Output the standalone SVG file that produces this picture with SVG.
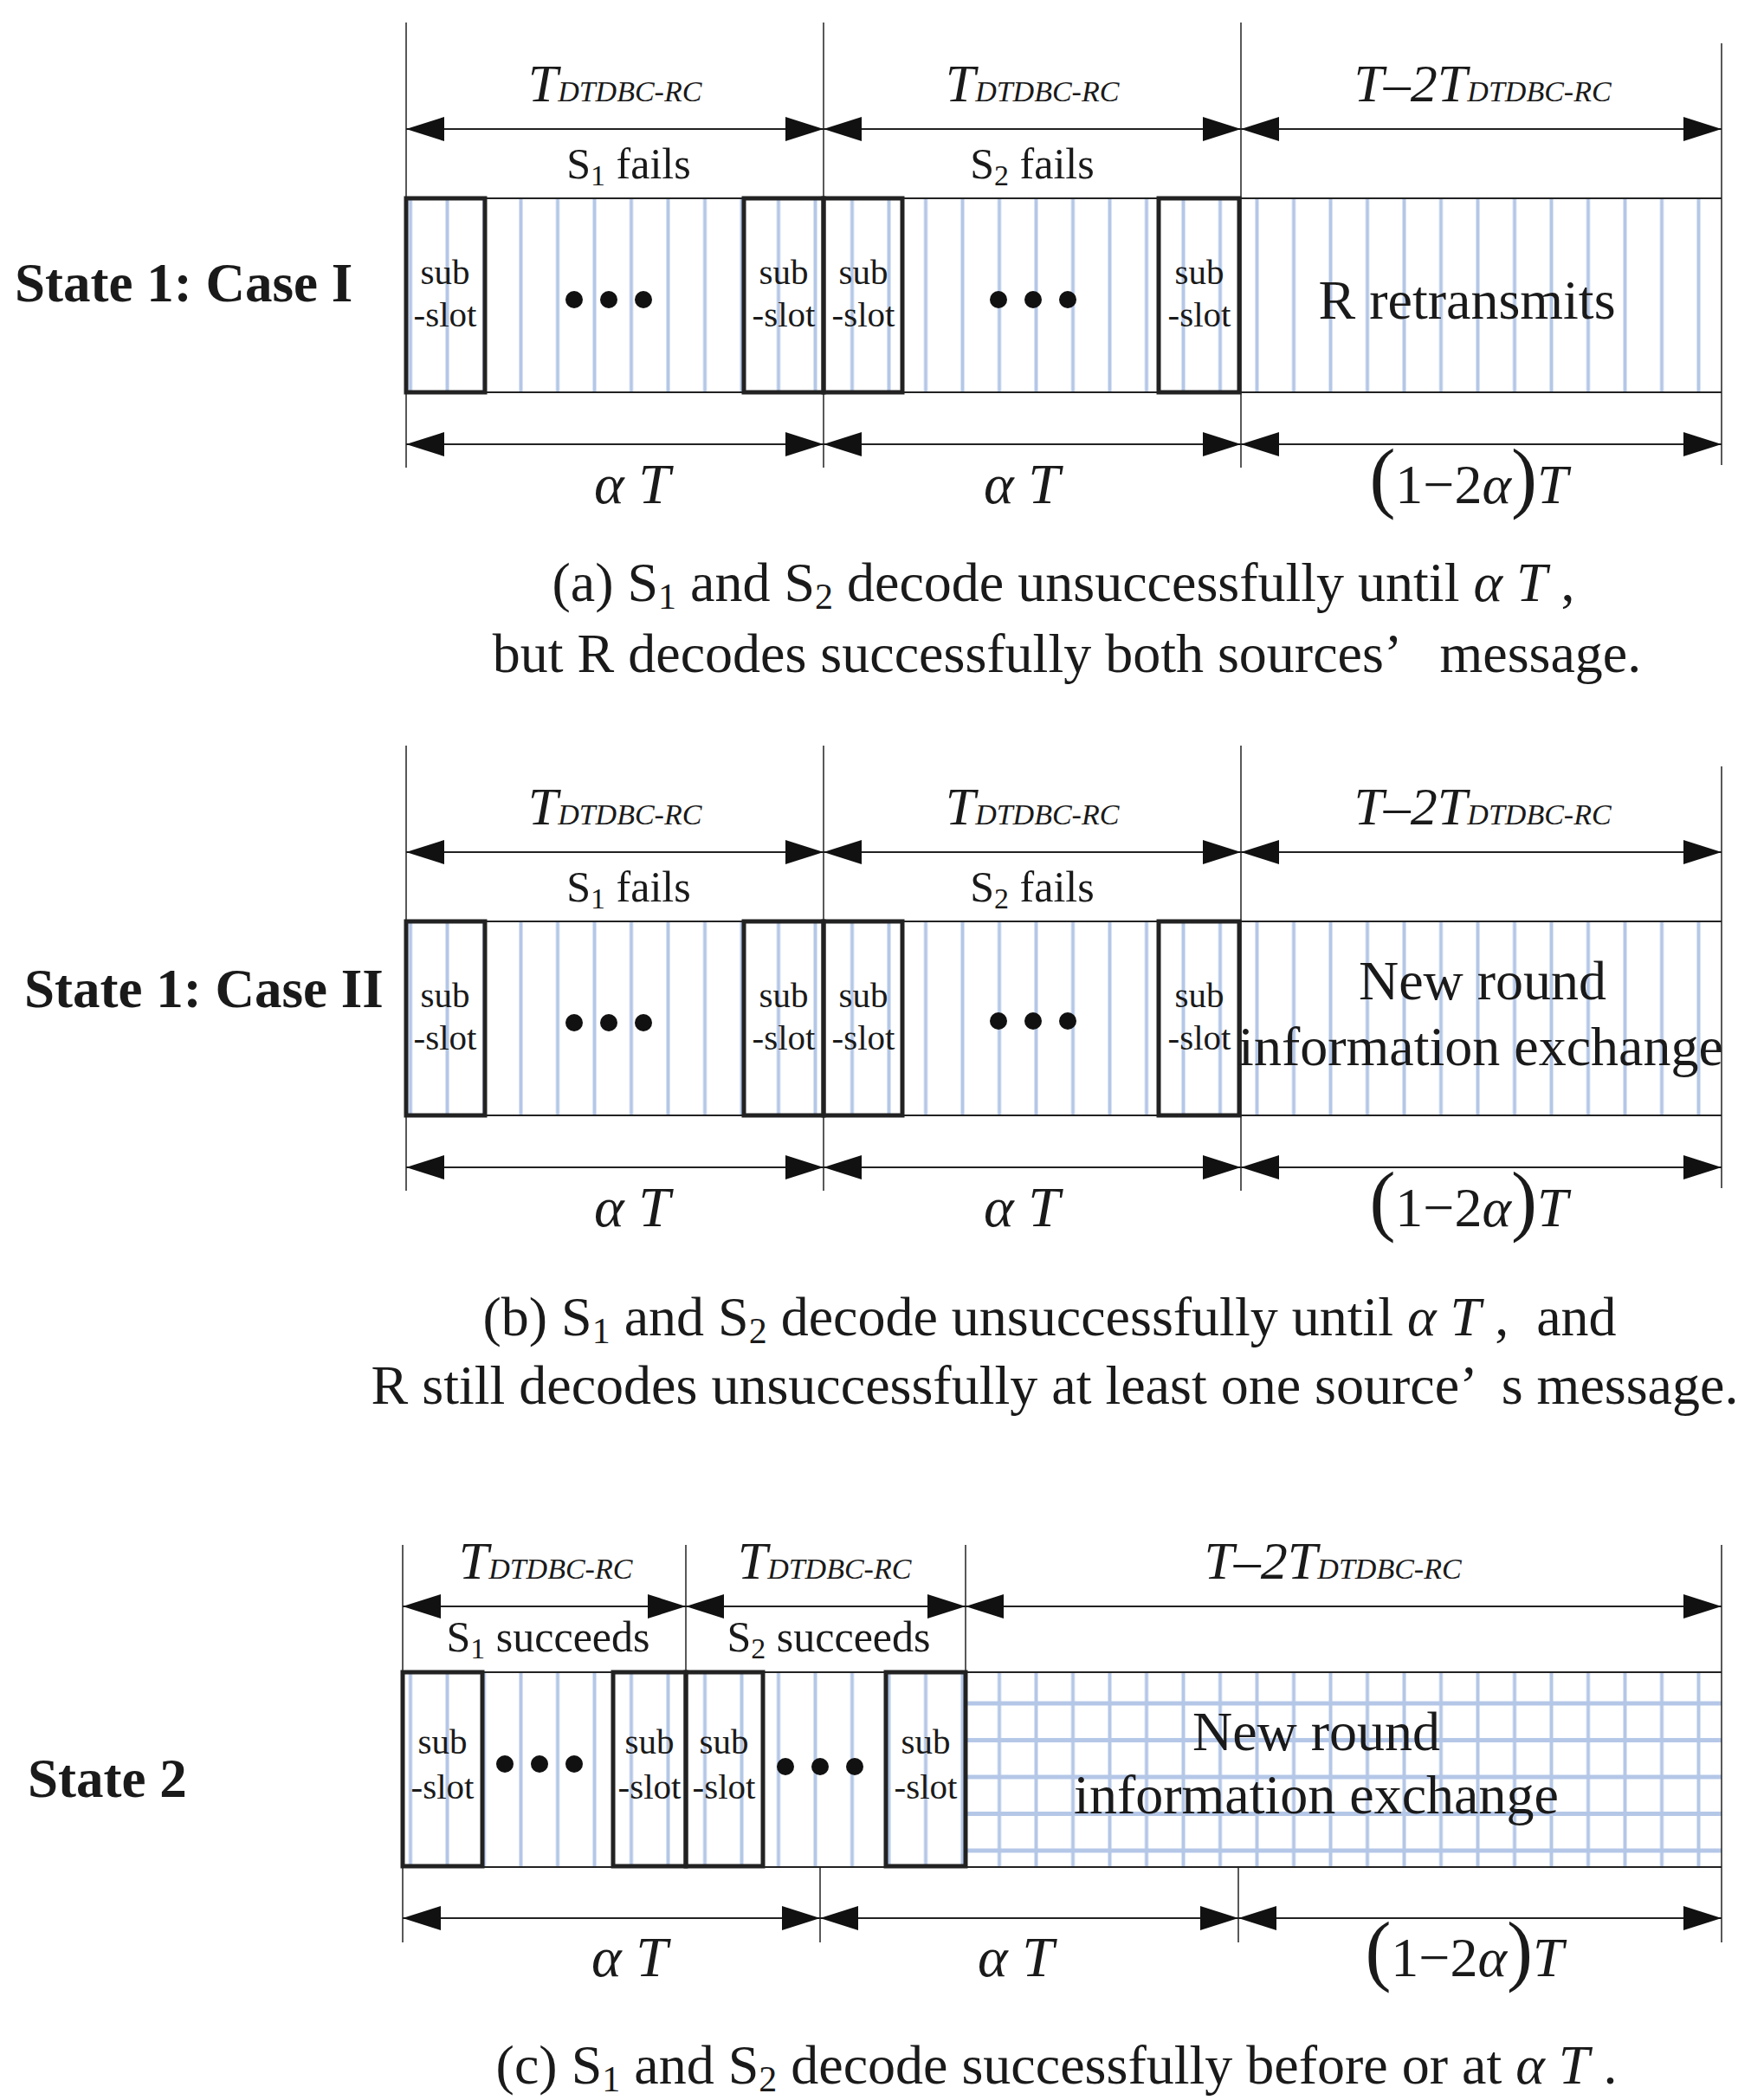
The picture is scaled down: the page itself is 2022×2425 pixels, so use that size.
<svg xmlns="http://www.w3.org/2000/svg" width="2022" height="2425" viewBox="0 0 2022 2425">
<style>
text{font-family:"Liberation Serif","Times New Roman",serif;fill:#1a1a1a}
.st{font-weight:bold;font-size:63px}
.lab{font-size:50px}
.ss{font-size:41px;text-anchor:middle}
.it{font-style:italic}
.cap{font-size:64px;text-anchor:middle}
.mid{text-anchor:middle}
.ext{stroke:#222;stroke-width:1.5;fill:none}
.dim{stroke:#222;stroke-width:1.8;fill:none;marker-start:url(#ar);marker-end:url(#ar)}
.box{stroke:#222;stroke-width:5;fill:none}
.edge{stroke:#222;stroke-width:1.8}
.dot{fill:#111}
</style>
<defs>
<marker id="ar" markerUnits="userSpaceOnUse" markerWidth="46" markerHeight="30" refX="44" refY="14" orient="auto-start-reverse"><path d="M0,0 L44,14 L0,28 Z" fill="#111"/></marker>
<pattern id="pv" x="452.75" y="0" width="42.5" height="10" patternUnits="userSpaceOnUse"><rect x="19.25" y="0" width="4" height="10" fill="#b4c7e7"/></pattern>
<pattern id="pg" x="452.75" y="1945.75" width="42.5" height="42.5" patternUnits="userSpaceOnUse"><rect x="19.25" y="0" width="4" height="42.5" fill="#b4c7e7"/><rect x="0" y="18.75" width="42.5" height="5" fill="#b4c7e7"/></pattern>
</defs>

<g id="panel-a">
<text class="st" x="17" y="348">State 1: Case I</text>
<rect x="469" y="229" width="1519" height="224" fill="url(#pv)"/>
<line class="edge" x1="469" y1="229" x2="1988" y2="229"/><line class="edge" x1="469" y1="453" x2="1988" y2="453"/>
<rect class="box" x="469" y="229" width="91" height="224"/>
<rect class="box" x="859" y="229" width="92" height="224"/>
<rect class="box" x="951" y="229" width="91" height="224"/>
<rect class="box" x="1338" y="229" width="93" height="224"/>
<text class="ss" x="514" y="328">sub</text><text class="ss" x="514" y="377">-slot</text>
<text class="ss" x="905" y="328">sub</text><text class="ss" x="905" y="377">-slot</text>
<text class="ss" x="997" y="328">sub</text><text class="ss" x="997" y="377">-slot</text>
<text class="ss" x="1385" y="328">sub</text><text class="ss" x="1385" y="377">-slot</text>
<circle class="dot" cx="663" cy="346" r="10"/><circle class="dot" cx="703" cy="346" r="10"/><circle class="dot" cx="743" cy="346" r="10"/>
<circle class="dot" cx="1153" cy="346" r="10"/><circle class="dot" cx="1193" cy="346" r="10"/><circle class="dot" cx="1233" cy="346" r="10"/>
<text class="mid" x="1694" y="368" font-size="64">R retransmits</text>
<text class="mid it" x="710" y="117"><tspan font-size="62">T</tspan><tspan font-size="34">DTDBC-RC</tspan></text>
<text class="mid it" x="1192" y="117"><tspan font-size="62">T</tspan><tspan font-size="34">DTDBC-RC</tspan></text>
<text class="mid it" x="1712" y="117"><tspan font-size="62">T–2T</tspan><tspan font-size="34">DTDBC-RC</tspan></text>
<text class="lab mid" x="726" y="206">S<tspan font-size="34" dy="8">1</tspan><tspan dy="-8"> fails</tspan></text>
<text class="lab mid" x="1192" y="206">S<tspan font-size="34" dy="8">2</tspan><tspan dy="-8"> fails</tspan></text>
<text class="mid it" x="730" y="581" font-size="66">α T</text>
<text class="mid it" x="1180" y="581" font-size="66">α T</text>
<text class="mid" x="1696" y="581" font-size="64"><tspan font-size="90">(</tspan>1−2<tspan class="it">α</tspan><tspan font-size="90">)</tspan><tspan class="it">T</tspan></text>
<text class="cap" x="1228" y="694">(a) S<tspan font-size="42" dy="9">1</tspan><tspan dy="-9"> and S</tspan><tspan font-size="42" dy="9">2</tspan><tspan dy="-9"> decode unsuccessfully until </tspan><tspan class="it">α T</tspan> ,</text>
<text class="cap" x="1232" y="776" xml:space="preserve">but R decodes successfully both sources’   message.</text>
</g>

<g id="panel-b">
<text class="st" x="28" y="1163">State 1: Case II</text>
<rect x="469" y="1064" width="1519" height="224" fill="url(#pv)"/>
<line class="edge" x1="469" y1="1064" x2="1988" y2="1064"/><line class="edge" x1="469" y1="1288" x2="1988" y2="1288"/>
<rect class="box" x="469" y="1064" width="91" height="224"/>
<rect class="box" x="859" y="1064" width="92" height="224"/>
<rect class="box" x="951" y="1064" width="91" height="224"/>
<rect class="box" x="1338" y="1064" width="93" height="224"/>
<text class="ss" x="514" y="1163">sub</text><text class="ss" x="514" y="1212">-slot</text>
<text class="ss" x="905" y="1163">sub</text><text class="ss" x="905" y="1212">-slot</text>
<text class="ss" x="997" y="1163">sub</text><text class="ss" x="997" y="1212">-slot</text>
<text class="ss" x="1385" y="1163">sub</text><text class="ss" x="1385" y="1212">-slot</text>
<circle class="dot" cx="663" cy="1181" r="10"/><circle class="dot" cx="703" cy="1181" r="10"/><circle class="dot" cx="743" cy="1181" r="10"/>
<circle class="dot" cx="1153" cy="1179" r="10"/><circle class="dot" cx="1193" cy="1179" r="10"/><circle class="dot" cx="1233" cy="1179" r="10"/>
<text class="mid" x="1712" y="1154" font-size="64">New round</text>
<text class="mid" x="1710" y="1230" font-size="64">information exchange</text>
<text class="mid it" x="710" y="952"><tspan font-size="62">T</tspan><tspan font-size="34">DTDBC-RC</tspan></text>
<text class="mid it" x="1192" y="952"><tspan font-size="62">T</tspan><tspan font-size="34">DTDBC-RC</tspan></text>
<text class="mid it" x="1712" y="952"><tspan font-size="62">T–2T</tspan><tspan font-size="34">DTDBC-RC</tspan></text>
<text class="lab mid" x="726" y="1041">S<tspan font-size="34" dy="8">1</tspan><tspan dy="-8"> fails</tspan></text>
<text class="lab mid" x="1192" y="1041">S<tspan font-size="34" dy="8">2</tspan><tspan dy="-8"> fails</tspan></text>
<text class="mid it" x="730" y="1416" font-size="66">α T</text>
<text class="mid it" x="1180" y="1416" font-size="66">α T</text>
<text class="mid" x="1696" y="1416" font-size="64"><tspan font-size="90">(</tspan>1−2<tspan class="it">α</tspan><tspan font-size="90">)</tspan><tspan class="it">T</tspan></text>
<text class="cap" x="1212" y="1542" xml:space="preserve">(b) S<tspan font-size="42" dy="9">1</tspan><tspan dy="-9"> and S</tspan><tspan font-size="42" dy="9">2</tspan><tspan dy="-9"> decode unsuccessfully until </tspan><tspan class="it">α T</tspan> ,  and</text>
<text class="cap" x="1218" y="1621" xml:space="preserve">R still decodes unsuccessfully at least one source’  s message.</text>
</g>

<g id="panel-c">
<text class="st" x="32" y="2075">State 2</text>
<rect x="465" y="1931" width="650" height="224" fill="url(#pv)"/>
<rect x="1115" y="1931" width="873" height="224" fill="url(#pg)"/>
<line class="edge" x1="465" y1="1931" x2="1988" y2="1931"/><line class="edge" x1="465" y1="2156" x2="1988" y2="2156"/>
<rect class="box" x="465" y="1931" width="92" height="224"/>
<rect class="box" x="708" y="1931" width="84" height="224"/>
<rect class="box" x="792" y="1931" width="89" height="224"/>
<rect class="box" x="1023" y="1931" width="92" height="224"/>
<text class="ss" x="511" y="2025">sub</text><text class="ss" x="511" y="2077">-slot</text>
<text class="ss" x="750" y="2025">sub</text><text class="ss" x="750" y="2077">-slot</text>
<text class="ss" x="836" y="2025">sub</text><text class="ss" x="836" y="2077">-slot</text>
<text class="ss" x="1069" y="2025">sub</text><text class="ss" x="1069" y="2077">-slot</text>
<circle class="dot" cx="583" cy="2037" r="10"/><circle class="dot" cx="623" cy="2037" r="10"/><circle class="dot" cx="663" cy="2037" r="10"/>
<circle class="dot" cx="907" cy="2040" r="10"/><circle class="dot" cx="947" cy="2040" r="10"/><circle class="dot" cx="987" cy="2040" r="10"/>
<text class="mid" x="1520" y="2021" font-size="64">New round</text>
<text class="mid" x="1520" y="2094" font-size="64">information exchange</text>
<text class="mid it" x="630" y="1823"><tspan font-size="62">T</tspan><tspan font-size="34">DTDBC-RC</tspan></text>
<text class="mid it" x="952" y="1823"><tspan font-size="62">T</tspan><tspan font-size="34">DTDBC-RC</tspan></text>
<text class="mid it" x="1539" y="1823"><tspan font-size="62">T–2T</tspan><tspan font-size="34">DTDBC-RC</tspan></text>
<text class="lab mid" x="633" y="1907">S<tspan font-size="34" dy="8">1</tspan><tspan dy="-8"> succeeds</tspan></text>
<text class="lab mid" x="957" y="1907">S<tspan font-size="34" dy="8">2</tspan><tspan dy="-8"> succeeds</tspan></text>
<text class="mid it" x="727" y="2282" font-size="66">α T</text>
<text class="mid it" x="1173" y="2282" font-size="66">α T</text>
<text class="mid" x="1691" y="2282" font-size="64"><tspan font-size="90">(</tspan>1−2<tspan class="it">α</tspan><tspan font-size="90">)</tspan><tspan class="it">T</tspan></text>
<text class="cap" x="1220" y="2406">(c) S<tspan font-size="42" dy="9">1</tspan><tspan dy="-9"> and S</tspan><tspan font-size="42" dy="9">2</tspan><tspan dy="-9"> decode successfully before or at </tspan><tspan class="it">α T</tspan> .</text>
</g>

<g id="connectors">
<line class="ext" x1="469" y1="26" x2="469" y2="540"/><line class="ext" x1="951" y1="26" x2="951" y2="540"/><line class="ext" x1="1433" y1="26" x2="1433" y2="540"/><line class="ext" x1="1988" y1="50" x2="1988" y2="537"/>
<line class="dim" x1="469" y1="149" x2="951" y2="149"/><line class="dim" x1="951" y1="149" x2="1433" y2="149"/><line class="dim" x1="1433" y1="149" x2="1988" y2="149"/>
<line class="dim" x1="469" y1="513" x2="951" y2="513"/><line class="dim" x1="951" y1="513" x2="1433" y2="513"/><line class="dim" x1="1433" y1="513" x2="1988" y2="513"/>

<line class="ext" x1="469" y1="861" x2="469" y2="1375"/><line class="ext" x1="951" y1="861" x2="951" y2="1375"/><line class="ext" x1="1433" y1="861" x2="1433" y2="1375"/><line class="ext" x1="1988" y1="885" x2="1988" y2="1372"/>
<line class="dim" x1="469" y1="984" x2="951" y2="984"/><line class="dim" x1="951" y1="984" x2="1433" y2="984"/><line class="dim" x1="1433" y1="984" x2="1988" y2="984"/>
<line class="dim" x1="469" y1="1348" x2="951" y2="1348"/><line class="dim" x1="951" y1="1348" x2="1433" y2="1348"/><line class="dim" x1="1433" y1="1348" x2="1988" y2="1348"/>

<line class="ext" x1="465" y1="1784" x2="465" y2="2243"/><line class="ext" x1="792" y1="1784" x2="792" y2="2156"/><line class="ext" x1="1115" y1="1784" x2="1115" y2="2156"/><line class="ext" x1="1988" y1="1784" x2="1988" y2="2243"/>
<line class="ext" x1="947" y1="2156" x2="947" y2="2243"/><line class="ext" x1="1430" y1="2156" x2="1430" y2="2243"/>
<line class="dim" x1="465" y1="1855" x2="792" y2="1855"/><line class="dim" x1="792" y1="1855" x2="1115" y2="1855"/><line class="dim" x1="1115" y1="1855" x2="1988" y2="1855"/>
<line class="dim" x1="465" y1="2215" x2="947" y2="2215"/><line class="dim" x1="947" y1="2215" x2="1430" y2="2215"/><line class="dim" x1="1430" y1="2215" x2="1988" y2="2215"/>
</g>
</svg>
